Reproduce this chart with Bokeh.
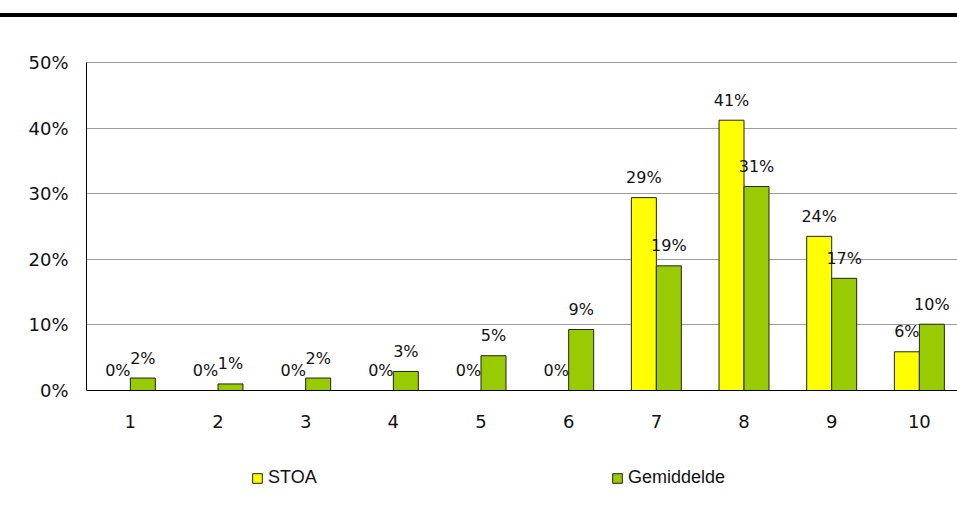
from bokeh.plotting import figure
from bokeh.models import (ColumnDataSource, Legend, LegendItem, Div, FixedTicker,
                          CustomJSTickFormatter, Span)
from bokeh.layouts import column
from bokeh.transform import dodge
from bokeh.core.properties import value
from bokeh.embed import file_html
from bokeh.resources import INLINE

categories = [1, 2, 3, 4, 5, 6, 7, 8, 9, 10]
stoa = [0, 0, 0, 0, 0, 0, 29.4, 41.2, 23.5, 5.9]
gemiddelde = [1.9, 1.0, 1.9, 2.9, 5.3, 9.3, 19.0, 31.1, 17.1, 10.1]
y_ticks = [0, 10, 20, 30, 40, 50]
series_names = ["STOA", "Gemiddelde"]

src = ColumnDataSource(dict(
    x=categories,
    zero=[0] * len(categories),
    cat_lbl=[str(c) for c in categories],
    stoa=stoa,
    gem=gemiddelde,
    stoa_lbl=[f"{round(v):d}%" for v in stoa],
    gem_lbl=[f"{round(v):d}%" for v in gemiddelde],
))

bw = 0.285
p = figure(width=957, height=490, x_range=(0.5, 10.435), y_range=(-16.31, 50.15),
           output_backend="svg", toolbar_location=None,
           min_border_left=86, min_border_right=0, min_border_top=44, min_border_bottom=10)
p.outline_line_color = None
p.background_fill_color = "white"

# grid
p.xgrid.grid_line_color = None
p.ygrid.grid_line_color = "#3a3a3a"
p.ygrid.grid_line_dash = "1 1"
p.ygrid.grid_line_width = 1

r1 = p.vbar(x=dodge("x", -bw / 2), top="stoa", width=bw, source=src,
            fill_color="#FFFF00", line_color="#222222", line_width=1)
r2 = p.vbar(x=dodge("x", bw / 2), top="gem", width=bw, source=src,
            fill_color="#99CC00", line_color="#222222", line_width=1)

lbl_font = value("DejaVu Sans")
p.text(x=dodge("x", -bw / 2), y="stoa", text="stoa_lbl", source=src,
       text_font=lbl_font, text_font_size="16px", text_color="#111111",
       text_align="center", text_baseline="middle", y_offset=-20)
p.text(x=dodge("x", bw / 2), y="gem", text="gem_lbl", source=src,
       text_font=lbl_font, text_font_size="16px", text_color="#111111",
       text_align="center", text_baseline="middle", y_offset=-20)

# category axis (drawn as baseline + labels)
p.add_layout(Span(location=0, dimension="width", line_color="black", line_width=1))
p.text(x="x", y="zero", text="cat_lbl", source=src,
       text_font=lbl_font, text_font_size="18px", text_color="#111111",
       text_align="center", text_baseline="middle", y_offset=31)
p.xaxis.visible = False

# value axis
p.yaxis.ticker = FixedTicker(ticks=y_ticks)
p.yaxis.formatter = CustomJSTickFormatter(code="return tick.toFixed(0) + '%';")
p.yaxis.bounds = (0, 50)
ax = p.yaxis[0]
ax.major_tick_out = 0
ax.major_tick_in = 0
ax.minor_tick_out = 0
ax.minor_tick_in = 0
ax.axis_line_color = "black"
ax.axis_line_width = 1
ax.major_label_text_font = "DejaVu Sans"
ax.major_label_text_font_size = "18px"
ax.major_label_text_color = "#111111"
ax.major_label_standoff = 18

legend = Legend(items=[LegendItem(label=series_names[0], renderers=[r1]),
                       LegendItem(label=series_names[1], renderers=[r2])],
                location=(165, 9), orientation="horizontal",
                glyph_width=12, glyph_height=12, label_standoff=5,
                label_width=343, spacing=0, padding=0, margin=0,
                border_line_color=None, background_fill_alpha=0,
                label_text_font="Liberation Sans", label_text_font_size="18px",
                label_text_color="#111111")
p.add_layout(legend, "center")

topline = Div(text="", width=957, height=4, margin=(13, 0, 0, 0),
              styles={"background-color": "black"})

layout = column(topline, p, spacing=0)
open("out.html", "w").write(file_html(layout, INLINE))
